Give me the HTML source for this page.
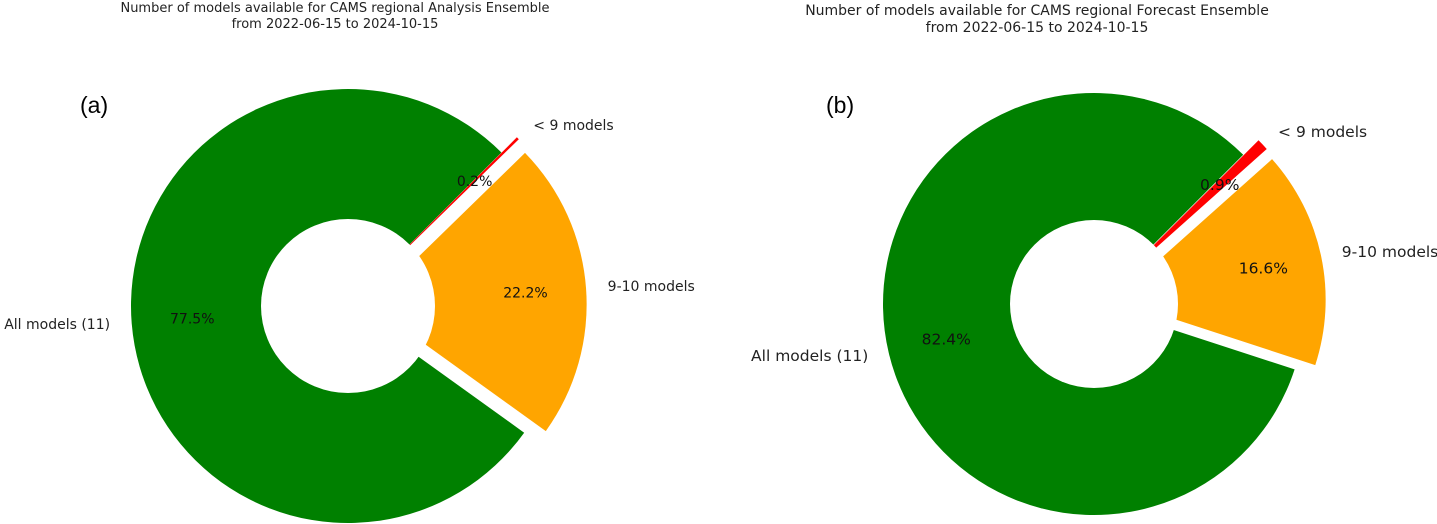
<!DOCTYPE html>
<html><head><meta charset="utf-8"><style>
html,body{margin:0;padding:0;background:#fff;}
svg{display:block;font-family:"DejaVu Sans","Liberation Sans",sans-serif;}
</style></head><body>
<svg id="chart" width="1437" height="524" viewBox="0 0 1437 524">
<text x="335" y="12" text-anchor="middle" font-size="13" fill="#222">Number of models available for CAMS regional Analysis Ensemble</text>
<text x="335" y="28" text-anchor="middle" font-size="13" fill="#222">from 2022-06-15 to 2024-10-15</text>
<text x="1037" y="15" text-anchor="middle" font-size="14" fill="#222">Number of models available for CAMS regional Forecast Ensemble</text>
<text x="1037" y="32" text-anchor="middle" font-size="14" fill="#222">from 2022-06-15 to 2024-10-15</text>
<text x="80" y="113" font-size="23" font-family="Liberation Sans, sans-serif" fill="#000">(a)</text>
<text x="826" y="113" font-size="23" font-family="Liberation Sans, sans-serif" fill="#000">(b)</text>
<g id="pies"></g>
</svg>
<script>
const categories = ["All models (11)", "9-10 models", "< 9 models"];
const colors = ["#008000", "#FFA500", "#FF0000"];
const analysisValues = [77.5, 22.2, 0.2];
const forecastValues = [82.4, 16.6, 0.9];
const explodeFrac = [0, 0.1, 0.1];

const NS = "http://www.w3.org/2000/svg";
const root = document.getElementById("pies");
function mk(tag, attrs, parent){ const e=document.createElementNS(NS,tag); for(const k in attrs) e.setAttribute(k,attrs[k]); parent.appendChild(e); return e; }

function drawDonut(cx, cy, r, ri, values, key, fs){
  const g = mk("g", {}, root);
  
  
  const labels = [];
  const total = values.reduce((a,b)=>a+b,0);
  let a0 = 45;
  values.forEach((v,i)=>{
    const sweep = v/total*360, a1 = a0+sweep, mid = (a0+a1)/2*Math.PI/180;
    const ox = Math.cos(mid)*explodeFrac[i]*r, oy = -Math.sin(mid)*explodeFrac[i]*r;
    const c = cx+ox, d = cy+oy;
    const p = (rad, ang)=>[c+rad*Math.cos(ang*Math.PI/180), d-rad*Math.sin(ang*Math.PI/180)];
    const large = sweep>180?1:0;
    const [x1,y1]=p(r,a0),[x2,y2]=p(r,a1);
    const path = mk("path", {d:`M${c},${d} L${x1},${y1} A${r},${r} 0 ${large} 0 ${x2},${y2} Z`, fill:colors[i]}, g);
    
    
    labels.push([c,d,mid,v,i]);
    a0 = a1;
  });
  const hole = mk("circle", {cx:cx, cy:cy, r:ri, fill:"#fff"}, g);
  
  
  labels.forEach(([c,d,mid,v,i])=>{
    const lx = c+1.1*r*Math.cos(mid), ly = d-1.08*r*Math.sin(mid);
    const lab = mk("text", {x:lx, y:ly+4, "font-size":fs, fill:"#222", "text-anchor": Math.cos(mid)<0?"end":"start"}, g);
    lab.textContent = categories[i];
    
    
    const px = c+0.72*r*Math.cos(mid), py = d-0.72*r*Math.sin(mid);
    const pct = mk("text", {x:px, y:py+5, "font-size":fs, fill:"#111", "text-anchor":"middle"}, g);
    pct.textContent = v.toFixed(1)+"%";
    
    
  });
}
drawDonut(348, 306, 217, 87, analysisValues, "analysis", 14);
drawDonut(1094, 304, 211, 84, forecastValues, "forecast", 15.5);
</script>
</body></html>
